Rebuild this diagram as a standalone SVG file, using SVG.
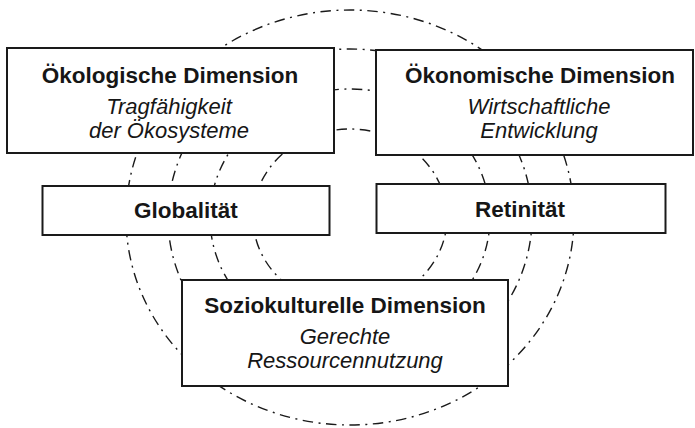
<svg xmlns="http://www.w3.org/2000/svg" width="695" height="428" viewBox="0 0 695 428">
<style>
.ring{fill:none;stroke:#1a1a1a;stroke-width:1.4;stroke-dasharray:10.5 5.5 2 5.5}
.box{fill:#fff;stroke:#1a1a1a;stroke-width:2}
.t{font-family:"Liberation Sans",Arial,sans-serif;font-size:22.5px;font-weight:bold;fill:#161616;text-anchor:middle}
.s{font-family:"Liberation Sans",Arial,sans-serif;font-size:22px;font-style:italic;fill:#161616;text-anchor:middle}
</style>
<rect width="695" height="428" fill="#fff"/>
<g id="connectors">
<ellipse class="ring" cx="350" cy="217.5" rx="224" ry="207.5"/>
<ellipse class="ring" cx="350" cy="217.5" rx="182" ry="168.5"/>
<ellipse class="ring" cx="350" cy="217.5" rx="140" ry="128.5"/>
<ellipse class="ring" cx="350" cy="217.5" rx="97" ry="88.5"/>
</g>
<g id="oekologisch">
<rect class="box" x="7" y="48" width="327" height="105"/>
<text class="t" x="170" y="82.5">Ökologische Dimension</text>
<text class="s" x="169" y="113.5">Tragfähigkeit</text>
<text class="s" x="169" y="138">der Ökosysteme</text>
</g>
<g id="oekonomisch">
<rect class="box" x="376" y="50" width="317" height="105"/>
<text class="t" x="540" y="82.5">Ökonomische Dimension</text>
<text class="s" x="539" y="113.5">Wirtschaftliche</text>
<text class="s" x="539" y="138">Entwicklung</text>
</g>
<g id="globalitaet">
<rect class="box" x="42.5" y="186" width="287" height="49"/>
<text class="t" x="186" y="217.5">Globalität</text>
</g>
<g id="retinitaet">
<rect class="box" x="376.5" y="184" width="289" height="49"/>
<text class="t" x="520" y="216.5">Retinität</text>
</g>
<g id="soziokulturell">
<rect class="box" x="182" y="280" width="326" height="106"/>
<text class="t" x="345" y="312.5">Soziokulturelle Dimension</text>
<text class="s" x="345" y="343.5">Gerechte</text>
<text class="s" x="345" y="368">Ressourcennutzung</text>
</g>
</svg>
